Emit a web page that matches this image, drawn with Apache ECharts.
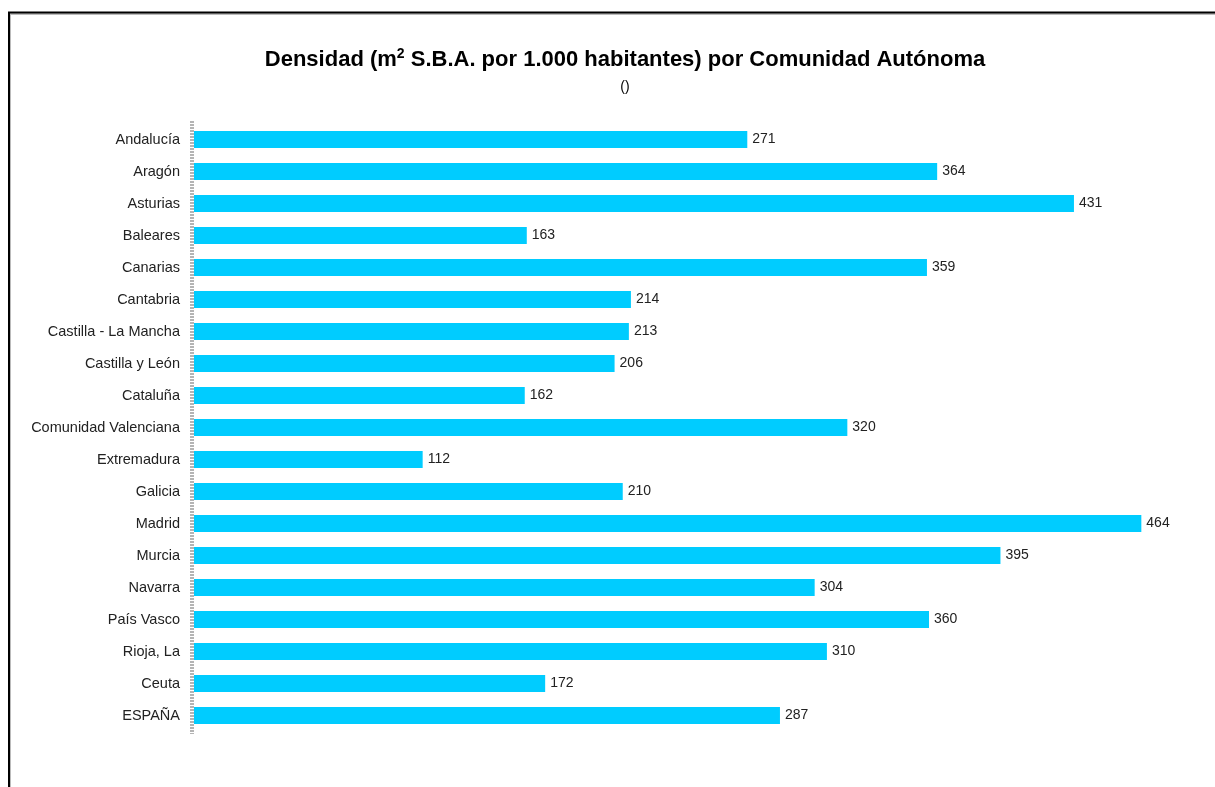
<!DOCTYPE html>
<html>
<head>
<meta charset="utf-8">
<script src="https://cdn.jsdelivr.net/npm/echarts@6/dist/echarts.min.js"></script>
<style>
html,body{margin:0;padding:0;background:#fff;}
#chart{width:1215px;height:787px;}
</style>
</head>
<body>
<div id="chart"></div>
<script>
const categories = ['Andalucía','Aragón','Asturias','Baleares','Canarias','Cantabria','Castilla - La Mancha','Castilla y León','Cataluña','Comunidad Valenciana','Extremadura','Galicia','Madrid','Murcia','Navarra','País Vasco','Rioja, La','Ceuta','ESPAÑA'];
const values = [271,364,431,163,359,214,213,206,162,320,112,210,464,395,304,360,310,172,287];

const chart = echarts.init(document.getElementById('chart'));
const FONT = 'Liberation Sans, Arial, sans-serif';
chart.setOption({
  animation: false,
  backgroundColor: '#ffffff',
  title: {
    text: 'Densidad (m{sup|2} S.B.A. por 1.000 habitantes) por Comunidad Autónoma',
    subtext: '()',
    left: 620,
    textAlign: 'center',
    top: 42,
    itemGap: 10,
    textStyle: {
      fontFamily: FONT, fontSize: 22, fontWeight: 'bold', color: '#000',
      rich: { sup: { fontFamily: FONT, fontSize: 14, fontWeight: 'bold', color: '#000', verticalAlign: 'top', padding: [0,0,11,0] } }
    },
    subtextStyle: { fontFamily: FONT, fontSize: 14, color: '#000' }
  },
  graphic: [
    { type: 'line', shape: { x1: 10, y1: 13, x2: 10, y2: 787 }, style: { stroke: '#bbb', lineWidth: 2 } },
    { type: 'line', shape: { x1: 10, y1: 14, x2: 1215, y2: 14 }, style: { stroke: '#bbb', lineWidth: 2 } },
    { type: 'line', shape: { x1: 9, y1: 12, x2: 9, y2: 787 }, style: { stroke: '#000', lineWidth: 2 } },
    { type: 'line', shape: { x1: 8, y1: 12.5, x2: 1215, y2: 12.5 }, style: { stroke: '#000', lineWidth: 2 } },
    { type: 'line', z: 10, shape: { x1: 192, y1: 121, x2: 192, y2: 734 }, style: { stroke: '#b4b4b4', lineWidth: 4, lineDash: [2, 1] } }
  ],
  grid: { left: 194, top: 123.5, height: 608, width: 980, containLabel: false },
  xAxis: {
    type: 'value', min: 0, max: 480,
    show: false
  },
  yAxis: {
    type: 'category', data: categories, inverse: true,
    axisLine: { show: false },
    axisTick: { show: false },
    axisLabel: { fontFamily: FONT, fontSize: 14.5, color: '#222', margin: 14 }
  },
  series: [{
    type: 'bar',
    data: values,
    barWidth: 17,
    itemStyle: { color: '#00ccff' },
    label: { show: true, position: 'right', distance: 5, fontFamily: FONT, fontSize: 14, color: '#222' }
  }]
});
</script>
</body>
</html>
